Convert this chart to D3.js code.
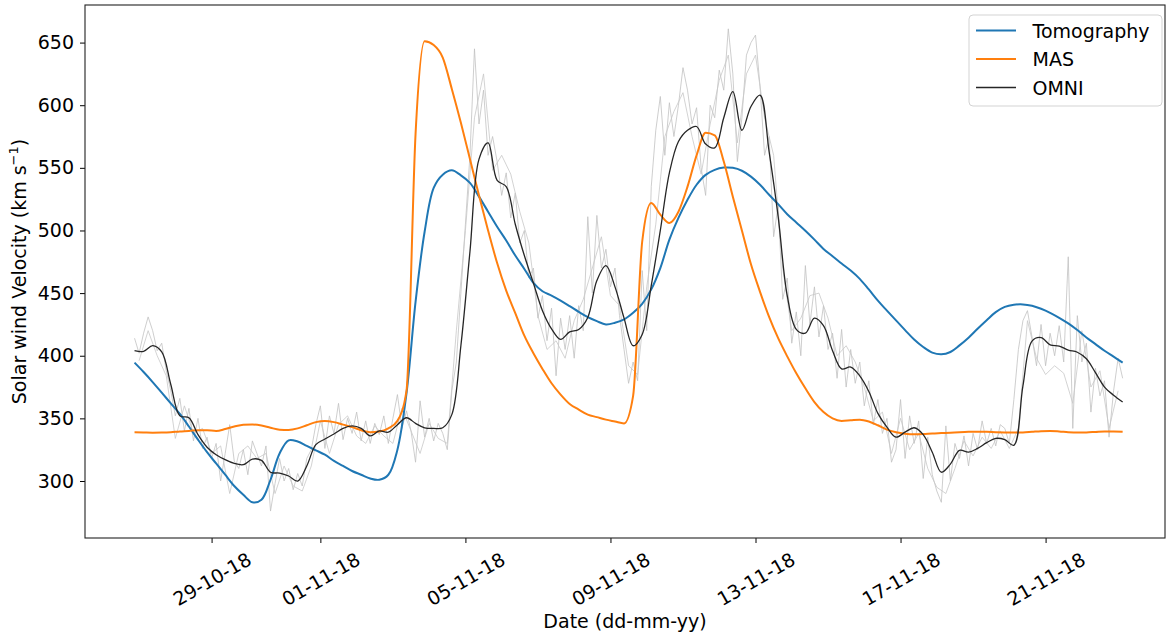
<!DOCTYPE html>
<html>
<head>
<meta charset="utf-8">
<script src="https://cdn.jsdelivr.net/npm/d3@7"></script>
<style>
  body { margin: 0; background: #ffffff; }
  svg text { font-family: "DejaVu Sans", sans-serif; fill: #000; }
</style>
</head>
<body>
<div id="chart"></div>
<script>
// first sample of every series, then spacing in hours
var seriesStart = Date.UTC(2018, 9, 26, 21);

// Tomography model (6 h samples)
var tomography = [
  394.5, 387, 379, 370.5, 362, 353.5, 343.5, 333, 323, 314,
  305, 296, 289, 283, 285, 301, 322, 332.5, 331.5, 328,
  324.5, 321, 316, 312, 308, 305, 302, 301, 305, 325,
  370, 443, 499, 534, 544.5, 548, 544, 538, 527, 515,
  503, 492, 480, 469.3, 458.2, 451.5, 448, 444, 439.6, 435,
  430.8, 427.6, 425, 426.3, 429, 434.3, 441.5, 453, 470, 492.7,
  510, 524.5, 536.5, 544.4, 548.4, 550.2, 550, 547.7, 543, 536.5,
  528.5, 521, 513, 506.4, 499.8, 492.7, 485.3, 479.4, 473.6, 468,
  461.4, 452.9, 444, 436, 428.2, 420.5, 413, 407, 402.5, 401.1,
  403, 408.3, 414.4, 421.6, 428.4, 434.8, 439, 440.7, 441, 439.9,
  437.5, 434.3, 430.3, 425.8, 420.5, 414.6, 409.3, 404, 399.3, 394.5
];

// MAS model (6 h samples)
var mas = [
  339, 338.8, 338.6, 338.7, 339, 339.6, 340, 340.6, 340.5, 340,
  341.5, 343.5, 345, 345.2, 344.3, 342.5, 341, 340.8, 342, 344.5,
  347, 348, 347, 345, 343, 340.5, 339, 339.5, 342, 348,
  372, 577, 651, 648, 638, 613, 586, 557, 528, 500,
  474, 452, 434, 416, 402, 389.5, 378, 369, 361.5, 357,
  353, 351, 349, 347.5, 346, 368, 491, 522, 512.6, 506,
  515, 535, 560, 578, 576, 555, 527, 500, 473, 451,
  431, 414, 399.5, 386, 374, 363, 355, 350, 348, 348.5,
  349, 347.5, 344.5, 341, 339, 337.8, 337.3, 337.5, 338, 338.3,
  338.6, 339, 339.3, 339.4, 339.3, 339, 338.8, 338.7, 338.8, 339.3,
  339.8, 340, 339.6, 339, 338.7, 338.8, 339.2, 339.6, 339.6, 339.4
];

// OMNI smoothed (6 h samples)
var omni = [
  404, 403.5, 408, 403, 377, 352, 350.5, 337, 327, 321,
  317, 314, 313, 317.5, 316.5, 307, 306.3, 304, 300, 312,
  329, 333.5, 337.5, 342, 344, 342, 336, 340, 339, 345,
  350.5, 346, 342.5, 342, 342.5, 353, 408, 483, 557, 570,
  540, 535, 505, 480, 458, 436, 421.5, 413, 419, 421,
  430.6, 460, 472, 455, 430, 408, 417, 456, 500, 546,
  571, 580, 583, 569, 566, 590, 610.8, 580, 599, 608,
  563, 511, 448, 421, 418, 430, 424, 404, 389.5, 391,
  384, 371.5, 354, 343, 335, 339, 342.5, 337, 323, 307,
  313.5, 324.5, 323, 326, 330.6, 334, 333, 328.5, 376, 411.7,
  414.5, 408.7, 407.7, 404.5, 402.8, 397.6, 386.5, 375, 368.5, 363
];

// OMNI raw (3 h samples)
var omniRawA = [
  414, 402, 418, 431, 420, 404, 410, 388,
  372, 352, 366, 340, 358, 332, 350, 326,
  335, 318, 330, 300, 322, 345, 316, 310,
  325, 305, 332, 322, 312, 328, 276, 298,
  318, 300, 310, 293, 306, 296, 318, 325,
  345, 360, 326, 352, 338, 362, 333, 350,
  338, 355, 332, 348, 330, 346, 337, 352,
  330, 350, 369, 342, 356, 340, 315, 364,
  335, 350, 332, 346, 338, 325, 372, 395,
  450, 505, 560, 645, 585, 612, 560, 575,
  555, 528, 546, 510, 530, 490, 500, 462,
  470, 430, 448, 412, 438, 384, 430, 405,
  432, 398, 440, 420, 511, 450, 512, 470,
  485, 455, 470, 432, 405, 378, 395, 380,
  468, 420, 535, 580, 607, 560, 602, 575,
  600, 630, 612, 585, 598, 550, 528, 600,
  590, 628, 612, 661, 625, 555, 590, 640,
  650, 656, 615, 560, 575, 495, 520, 445,
  462, 410, 435, 400, 472, 425, 455, 415,
  440, 405, 418, 382, 421, 375, 405, 378,
  395, 360, 380, 345, 365, 338, 350, 315,
  325, 365, 318, 352, 330, 348, 302, 335,
  305, 292, 283, 344, 300, 330, 318, 336,
  312, 338, 325, 348, 330, 342, 328, 345,
  342, 330, 365, 405, 428, 436, 415, 392,
  425, 392, 418, 400, 424, 395, 479, 342,
  432, 395, 410, 355, 390, 368, 380, 335,
  372, 398, 382
];

// OMNI raw, second record (6 h samples, starts 3 h later)
var omniRawB = [
  396, 420, 400, 384, 334, 360, 338, 342, 322, 328,
  290, 322, 328, 318, 322, 290, 312, 296, 292, 312,
  348, 322, 345, 352, 336, 330, 344, 336, 330, 358,
  340, 322, 346, 334, 330, 420, 500, 590, 625, 548,
  560, 545, 515, 490, 432, 405, 412, 398, 428, 445,
  470, 495, 448, 440, 392, 385, 455, 505, 575, 595,
  610, 575, 545, 585, 620, 640, 570, 625, 640, 590,
  560, 470, 420, 430, 448, 450, 430, 400, 408, 395,
  375, 348, 355, 322, 350, 325, 338, 310, 295, 290,
  310, 332, 320, 335, 326, 340, 326, 342, 428, 398,
  385, 392, 386, 362, 420, 375, 388, 342, 372
];

var tickDates = [
  Date.UTC(2018, 9, 29), Date.UTC(2018, 10, 1), Date.UTC(2018, 10, 5),
  Date.UTC(2018, 10, 9), Date.UTC(2018, 10, 13), Date.UTC(2018, 10, 17),
  Date.UTC(2018, 10, 21)
];
var yTicks = [300, 350, 400, 450, 500, 550, 600, 650];

var legendItems = [
  {name: "Tomography", color: "#1f77b4", width: 2},
  {name: "MAS", color: "#ff7f0e", width: 2},
  {name: "OMNI", color: "#262626", width: 1.3}
];

// SVG area
var svgWidth = 1167;
var svgHeight = 637;

var margin = {top: 5, right: 2, bottom: 99, left: 85};

var chartWidth = svgWidth - margin.left - margin.right;
var chartHeight = svgHeight - margin.top - margin.bottom;

var svg = d3.select("#chart")
  .append("svg")
  .attr("width", svgWidth)
  .attr("height", svgHeight);

var chartGroup = svg.append("g")
  .attr("transform", `translate(${margin.left}, ${margin.top})`);

// scales
var xTimeScale = d3.scaleUtc()
  .domain([Date.UTC(2018, 9, 25, 12, 13), Date.UTC(2018, 10, 24, 7, 2)])
  .range([0, chartWidth]);

var yLinearScale = d3.scaleLinear()
  .domain([254.5, 680])
  .range([chartHeight, 0]);

// pair each value with its sample time
function withTimes(values, offsetHours, stepHours) {
  return values.map(function(v, i) {
    return {t: new Date(seriesStart + (offsetHours + i * stepHours) * 3600000), v: v};
  });
}

function makeLine(curve) {
  return d3.line()
    .x(d => xTimeScale(d.t))
    .y(d => yLinearScale(d.v))
    .curve(curve);
}

// raw OMNI in light grey
chartGroup.append("path")
  .datum(withTimes(omniRawA, 0, 3))
  .attr("d", makeLine(d3.curveLinear))
  .attr("fill", "none")
  .attr("stroke", "#c2c2c2")
  .attr("stroke-width", 0.8);

chartGroup.append("path")
  .datum(withTimes(omniRawB, 3, 6))
  .attr("d", makeLine(d3.curveLinear))
  .attr("fill", "none")
  .attr("stroke", "#c8c8c8")
  .attr("stroke-width", 0.8);

// models and smoothed OMNI
chartGroup.append("path")
  .datum(withTimes(tomography, 0, 6))
  .attr("d", makeLine(d3.curveCatmullRom.alpha(0.5)))
  .attr("fill", "none")
  .attr("stroke", legendItems[0].color)
  .attr("stroke-width", legendItems[0].width);

chartGroup.append("path")
  .datum(withTimes(mas, 0, 6))
  .attr("d", makeLine(d3.curveMonotoneX))
  .attr("fill", "none")
  .attr("stroke", legendItems[1].color)
  .attr("stroke-width", legendItems[1].width);

chartGroup.append("path")
  .datum(withTimes(omni, 0, 6))
  .attr("d", makeLine(d3.curveCatmullRom.alpha(0.5)))
  .attr("fill", "none")
  .attr("stroke", legendItems[2].color)
  .attr("stroke-width", legendItems[2].width);

// axes
var bottomAxis = d3.axisBottom(xTimeScale)
  .tickValues(tickDates)
  .tickFormat(d3.utcFormat("%d-%m-%y"))
  .tickSize(5)
  .tickSizeOuter(0);

var leftAxis = d3.axisLeft(yLinearScale)
  .tickValues(yTicks)
  .tickSize(5)
  .tickSizeOuter(0)
  .tickPadding(6);

var xAxis = chartGroup.append("g")
  .attr("transform", `translate(0, ${chartHeight})`)
  .call(bottomAxis);

xAxis.selectAll("text")
  .attr("y", 0)
  .attr("dy", null)
  .attr("text-anchor", "middle")
  .attr("dominant-baseline", "central")
  .attr("transform", "translate(0, 41) rotate(-30)");

var yAxis = chartGroup.append("g")
  .call(leftAxis);

chartGroup.selectAll(".tick text")
  .attr("font-size", 19)
  .attr("font-family", "DejaVu Sans, sans-serif")
  .attr("fill", "#000");

chartGroup.selectAll(".tick line")
  .attr("stroke", "#000");

chartGroup.selectAll(".domain").remove();

// axes frame
chartGroup.append("rect")
  .attr("x", 0)
  .attr("y", 0)
  .attr("width", chartWidth)
  .attr("height", chartHeight)
  .attr("fill", "none")
  .attr("stroke", "#222")
  .attr("stroke-width", 1.1);

// axis labels
svg.append("text")
  .attr("x", margin.left + chartWidth / 2)
  .attr("y", 628)
  .attr("text-anchor", "middle")
  .attr("font-size", 19)
  .text("Date (dd-mm-yy)");

var yLabel = svg.append("text")
  .attr("transform", `translate(26, ${margin.top + chartHeight / 2}) rotate(-90)`)
  .attr("text-anchor", "middle")
  .attr("font-size", 19);
yLabel.append("tspan").text("Solar wind Velocity (km s");
yLabel.append("tspan").attr("dy", -8).attr("font-size", 13).text("\u22121");
yLabel.append("tspan").attr("dy", 8).text(")");

// legend
var legend = svg.append("g")
  .attr("transform", "translate(969, 15)");

legend.append("rect")
  .attr("width", 193)
  .attr("height", 91)
  .attr("rx", 4)
  .attr("fill", "#fff")
  .attr("fill-opacity", 0.8)
  .attr("stroke", "#d3d3d3");

var legendRows = legend.selectAll("g.row")
  .data(legendItems)
  .enter()
  .append("g")
  .attr("transform", (d, i) => `translate(0, ${15.5 + i * 28.5})`);

legendRows.append("line")
  .attr("x1", 7)
  .attr("x2", 47)
  .attr("stroke", d => d.color)
  .attr("stroke-width", d => d.width);

legendRows.append("text")
  .attr("x", 63.5)
  .attr("dominant-baseline", "central")
  .attr("font-size", 19)
  .text(d => d.name);
</script>
</body>
</html>
